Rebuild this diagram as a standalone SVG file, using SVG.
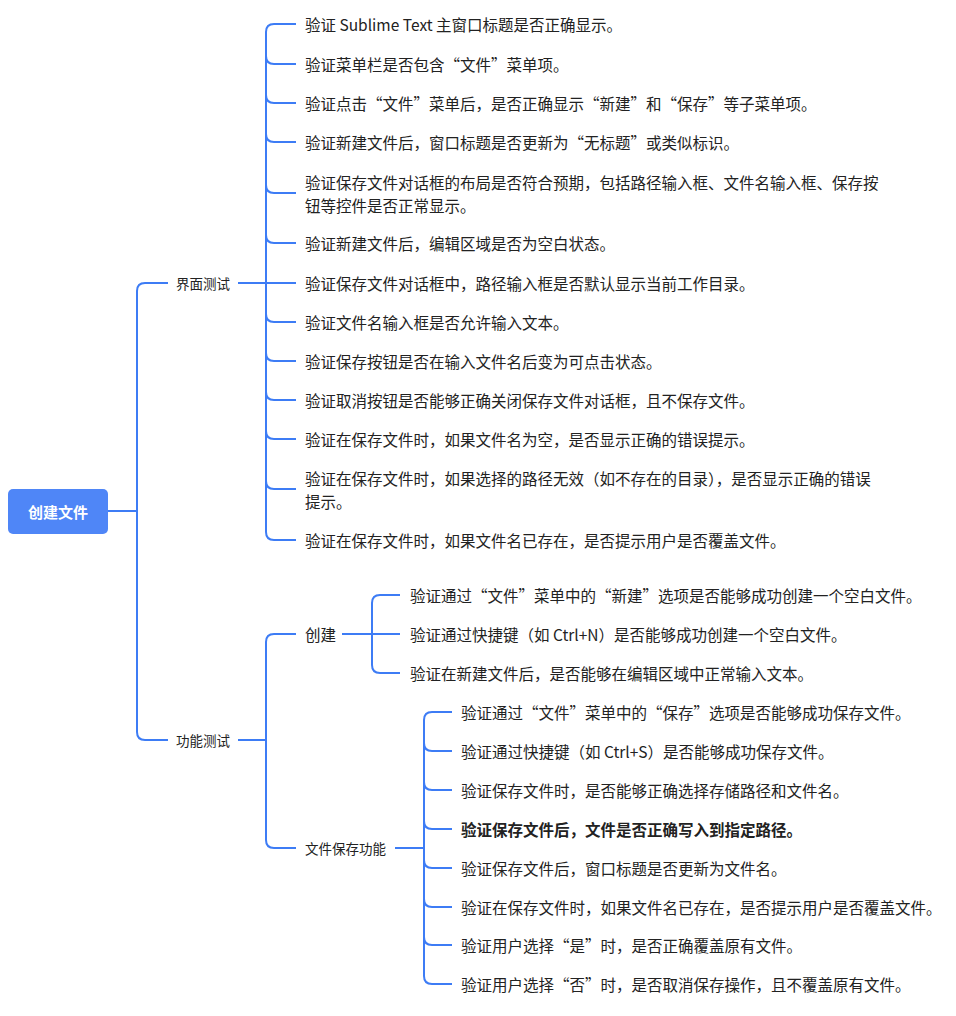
<svg xmlns="http://www.w3.org/2000/svg" width="956" height="1016" viewBox="0 0 956 1016">
<style>
.c{fill:none;stroke:#3d7cf5;stroke-width:2}
text{font-family:"Noto Sans CJK SC","Noto Sans",sans-serif;fill:#222;dominant-baseline:central}
.l{font-size:15.5px}
.b{font-size:13.5px}
.r{font-size:15px;fill:#fff;font-weight:bold}
</style>
<rect width="956" height="1016" fill="#fff"/>
<g id="connectors">
<path class="c" d="M108 511H137M168 283H145Q137 283 137 291V732Q137 740 145 740H168"/>
<path class="c" d="M238 283H296M296 24H274Q266 24 266 32V532Q266 540 274 540H296"/>
<path class="c" d="M266 56Q266 64 274 64H296M266 95Q266 103 274 103H296M266 134Q266 142 274 142H296M266 185Q266 193 274 193H296M266 235Q266 243 274 243H296M266 314Q266 322 274 322H296M266 353Q266 361 274 361H296M266 392Q266 400 274 400H296M266 431Q266 439 274 439H296M266 481Q266 489 274 489H296"/>
<path class="c" d="M238 740H266M296 634H274Q266 634 266 642V840Q266 848 274 848H296"/>
<path class="c" d="M342 634H400M400 595H380Q372 595 372 603V665Q372 673 380 673H400"/>
<path class="c" d="M395 848H424M452 712H432Q424 712 424 720V976Q424 984 432 984H452"/>
<path class="c" d="M424 743Q424 751 432 751H452M424 782Q424 790 432 790H452M424 821Q424 829 432 829H452M424 860Q424 868 432 868H452M424 899Q424 907 432 907H452M424 937Q424 945 432 945H452"/>
</g>
<g id="root"><rect x="8" y="489" width="100" height="45" rx="5" fill="#4f86f7"/><text class="r" x="58" y="511" text-anchor="middle">创建文件</text></g>
<g id="ui"><text class="b" x="176" y="283">界面测试</text></g>
<g id="func"><text class="b" x="176" y="740">功能测试</text></g>
<g id="ui-leaves" class="l">
<text class="l" x="305" y="24">验证 Sublime Text 主窗口标题是否正确显示。</text>
<text class="l" x="305" y="64">验证菜单栏是否包含“文件”菜单项。</text>
<text class="l" x="305" y="103">验证点击“文件”菜单后，是否正确显示“新建”和“保存”等子菜单项。</text>
<text class="l" x="305" y="142">验证新建文件后，窗口标题是否更新为“无标题”或类似标识。</text>
<text class="l" x="305" y="182">验证保存文件对话框的布局是否符合预期，包括路径输入框、文件名输入框、保存按</text>
<text class="l" x="305" y="205">钮等控件是否正常显示。</text>
<text class="l" x="305" y="243">验证新建文件后，编辑区域是否为空白状态。</text>
<text class="l" x="305" y="283">验证保存文件对话框中，路径输入框是否默认显示当前工作目录。</text>
<text class="l" x="305" y="322">验证文件名输入框是否允许输入文本。</text>
<text class="l" x="305" y="361">验证保存按钮是否在输入文件名后变为可点击状态。</text>
<text class="l" x="305" y="400">验证取消按钮是否能够正确关闭保存文件对话框，且不保存文件。</text>
<text class="l" x="305" y="439">验证在保存文件时，如果文件名为空，是否显示正确的错误提示。</text>
<text class="l" x="305" y="478">验证在保存文件时，如果选择的路径无效（如不存在的目录），是否显示正确的错误</text>
<text class="l" x="305" y="501">提示。</text>
<text class="l" x="305" y="540">验证在保存文件时，如果文件名已存在，是否提示用户是否覆盖文件。</text>
</g>
<g id="create"><text class="l" x="305" y="634">创建</text>
<text class="l" x="410" y="595">验证通过“文件”菜单中的“新建”选项是否能够成功创建一个空白文件。</text>
<text class="l" x="410" y="634">验证通过快捷键（如 Ctrl+N）是否能够成功创建一个空白文件。</text>
<text class="l" x="410" y="673">验证在新建文件后，是否能够在编辑区域中正常输入文本。</text>
</g>
<g id="save"><text class="b" x="305" y="848">文件保存功能</text>
<text class="l" x="461" y="712">验证通过“文件”菜单中的“保存”选项是否能够成功保存文件。</text>
<text class="l" x="461" y="751">验证通过快捷键（如 Ctrl+S）是否能够成功保存文件。</text>
<text class="l" x="461" y="790">验证保存文件时，是否能够正确选择存储路径和文件名。</text>
<text class="l" x="461" y="829" font-weight="bold">验证保存文件后，文件是否正确写入到指定路径。</text>
<text class="l" x="461" y="868">验证保存文件后，窗口标题是否更新为文件名。</text>
<text class="l" x="461" y="907">验证在保存文件时，如果文件名已存在，是否提示用户是否覆盖文件。</text>
<text class="l" x="461" y="945">验证用户选择“是”时，是否正确覆盖原有文件。</text>
<text class="l" x="461" y="984">验证用户选择“否”时，是否取消保存操作，且不覆盖原有文件。</text>
</g>
</svg>
